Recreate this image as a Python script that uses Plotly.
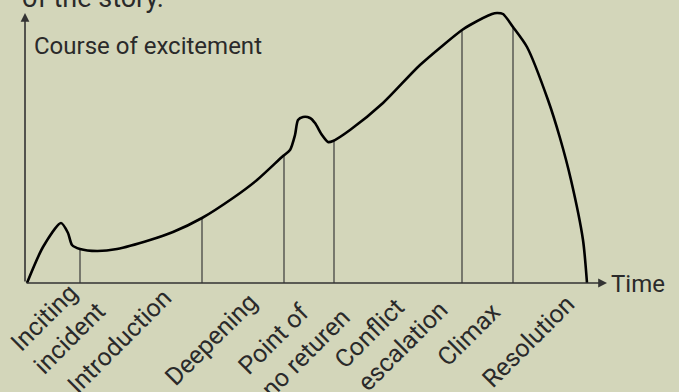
import plotly.graph_objects as go

# Story excitement curve (time, excitement)
curve_time = [2, 18, 36, 43, 47, 55, 72, 92, 125, 148, 177, 208, 232, 258, 265, 270, 273, 278,
              285, 290, 297, 303, 308, 325, 358, 395, 437, 445, 467, 472, 478, 488, 502, 523,
              535, 546, 558, 562]
curve_excitement = [0, 36, 60, 50, 38, 34, 32, 34, 43, 51, 65, 85, 103, 127, 133, 148, 163, 166,
                    165, 160, 148, 141, 142, 153, 180, 218, 253, 258, 269, 270, 269, 256, 236, 183,
                    145, 103, 43, 0]

# Phase boundaries (time, excitement at boundary)
boundary_time = [55, 177, 259, 309, 437, 488]
boundary_excitement = [34, 65, 128, 142, 253, 256]

# Phase labels
phase_labels = ["Inciting<br>incident", "Introduction", "Deepening", "Point of<br>no returen",
                "Conflict<br>escalation", "Climax", "Resolution"]

BG = "#D3D6BA"
TXT = "#2a2a2a"
FONT = "Roboto"

fig = go.Figure()

# vertical phase lines
vx, vy = [], []
for t, e in zip(boundary_time, boundary_excitement):
    vx += [t, t, None]
    vy += [0, e, None]
fig.add_trace(go.Scatter(x=vx, y=vy, mode="lines",
                         line=dict(color="#3a3a3a", width=1.2), hoverinfo="skip"))

# excitement curve
fig.add_trace(go.Scatter(x=curve_time, y=curve_excitement, mode="lines",
                         line=dict(color="black", width=2.6, shape="spline", smoothing=0.7),
                         hoverinfo="skip"))

annotations = []
# axes arrows
annotations.append(dict(x=582, y=0, ax=0, ay=0, xref="x", yref="y", axref="x", ayref="y",
                        text="", showarrow=True, arrowhead=2, arrowsize=1.1, arrowwidth=1.6,
                        arrowcolor="#333333", standoff=0))
annotations.append(dict(x=0, y=270, ax=0, ay=0, xref="x", yref="y", axref="x", ayref="y",
                        text="", showarrow=True, arrowhead=2, arrowsize=1.1, arrowwidth=1.6,
                        arrowcolor="#333333", standoff=0))

# axis titles
annotations.append(dict(x=7, y=237, xref="x", yref="y", text="Course of excitement",
                        showarrow=False, xanchor="left", yanchor="middle",
                        font=dict(family=FONT, size=24, color=TXT)))
annotations.append(dict(x=1.007, y=0.007, xref="paper", yref="paper", text="Time",
                        showarrow=False, xanchor="left", yanchor="middle",
                        font=dict(family=FONT, size=24, color=TXT)))
# cut-off heading at top
annotations.append(dict(x=-0.004, y=1.047, xref="paper", yref="paper", text="of the story.",
                        showarrow=False, xanchor="left", yanchor="middle",
                        font=dict(family=FONT, size=27, color=TXT)))

# phase labels (layout positions of label centres)
label_x = [33, 94, 186, 269, 366, 444, 503]
label_y = [-0.149, -0.200, -0.193, -0.204, -0.178, -0.178, -0.200]
for lab, lx, ly in zip(phase_labels, label_x, label_y):
    annotations.append(dict(x=lx, y=ly, xref="x", yref="paper", text=lab, showarrow=False,
                            textangle=-45, xanchor="center", yanchor="middle", align="left",
                            font=dict(family=FONT, size=25, color=TXT)))

fig.update_layout(
    width=679, height=392,
    margin=dict(l=22, r=74, t=11, b=106),
    paper_bgcolor=BG, plot_bgcolor=BG,
    showlegend=False,
    xaxis=dict(range=[-3, 580], visible=False, fixedrange=True),
    yaxis=dict(range=[-3, 272], visible=False, fixedrange=True),
    annotations=annotations,
)

fig.write_html("out.html", config={"displayModeBar": False},
               post_script="document.body.style.margin='0';")
